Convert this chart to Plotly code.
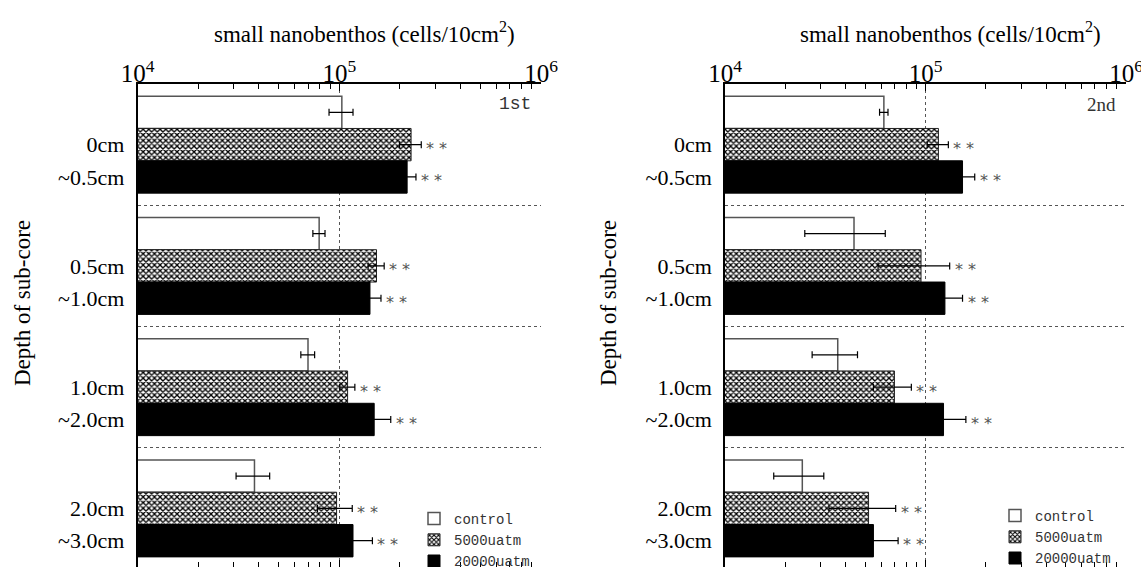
import numpy as np
import plotly.graph_objects as go

# categories
depth_top = ["0cm", "0.5cm", "1.0cm", "2.0cm"]
depth_bottom = ["~0.5cm", "~1.0cm", "~2.0cm", "~3.0cm"]
series_names = ["control", "5000uatm", "20000uatm"]
panel_tags = ["1st", "2nd"]

# 1st experiment (cells/10cm2)
first_control = [1.03e5, 7.95e4, 7.0e4, 3.8e4]
first_control_err = [1.4e4, 5.5e3, 5.5e3, 7.2e3]
first_5000 = [2.27e5, 1.53e5, 1.10e5, 9.7e4]
first_5000_err = [2.8e4, 1.4e4, 9.5e3, 1.9e4]
first_20000 = [2.17e5, 1.42e5, 1.49e5, 1.17e5]
first_20000_err = [2.3e4, 1.9e4, 3.1e4, 2.9e4]

# 2nd experiment
second_control = [6.2e4, 4.4e4, 3.65e4, 2.43e4]
second_control_err = [3.0e3, 1.9e4, 9.3e3, 6.8e3]
second_5000 = [1.16e5, 9.5e4, 7.0e4, 5.2e4]
second_5000_err = [1.4e4, 3.7e4, 1.5e4, 1.9e4]
second_20000 = [1.53e5, 1.25e5, 1.23e5, 5.5e4]
second_20000_err = [2.3e4, 2.8e4, 3.6e4, 1.8e4]

W, H = 1141, 567
SERIF = "Liberation Serif"
MONO = "Liberation Mono"

bargap = 0.2
bw = (1 - bargap) / 3
ypos = np.arange(len(depth_top))

fig = go.Figure()

panels = [
    (first_control, first_control_err, first_5000, first_5000_err, first_20000, first_20000_err),
    (second_control, second_control_err, second_5000, second_5000_err, second_20000, second_20000_err),
]
x_dom = [(137.5 / W, 541 / W), (725 / W, 1126 / W)]
top_px = 84
y_dom = (0, 1 - top_px / H)
unit_px = 121.25
y_span = (H - top_px) / unit_px
legends = ["legend", "legend2"]

for p, (c, ce, m, me, h, he) in enumerate(panels):
    xa = "x" if p == 0 else "x2"
    ya = "y" if p == 0 else "y2"
    fig.add_trace(go.Bar(
        y=ypos, x=c, orientation="h", name=series_names[0], xaxis=xa, yaxis=ya,
        marker=dict(color="white", line=dict(color="#555555", width=1.5)),
        error_x=dict(type="data", array=ce, color="black", thickness=1.2, width=3.5),
        legend=legends[p],
    ))
    fig.add_trace(go.Bar(
        y=ypos, x=m, orientation="h", name=series_names[1], xaxis=xa, yaxis=ya,
        marker=dict(color="white", line=dict(color="#222222", width=1),
                    pattern=dict(shape="x", fgcolor="black", bgcolor="white",
                                 size=4, solidity=0.55)),
        error_x=dict(type="data", array=me, color="black", thickness=1.2, width=3.5),
        legend=legends[p],
    ))
    fig.add_trace(go.Bar(
        y=ypos, x=h, orientation="h", name=series_names[2], xaxis=xa, yaxis=ya,
        marker=dict(color="black", line=dict(color="black", width=1)),
        error_x=dict(type="data", array=he, color="black", thickness=1.2, width=3.5),
        legend=legends[p],
    ))

    # significance marks
    for vals, errs, off in [(m, me, 0.0), (h, he, bw)]:
        for i in range(len(vals)):
            fig.add_annotation(
                x=np.log10(vals[i] + errs[i]), y=i + off, xref=xa, yref=ya,
                text="* *", showarrow=False, xanchor="left", yanchor="middle",
                xshift=3, yshift=-4,
                font=dict(family="DejaVu Sans", size=16, color="#555555"),
            )

    tickvals, ticktext = [], []
    for i in range(len(depth_top)):
        tickvals += [i, i + bw]
        ticktext += [depth_top[i], depth_bottom[i]]

    xkey = "xaxis" if p == 0 else "xaxis2"
    ykey = "yaxis" if p == 0 else "yaxis2"
    fig.update_layout({
        xkey: dict(
            type="log", range=[4, 6], domain=x_dom[p], anchor=ya, side="top",
            dtick=1, exponentformat="power", showline=True, linecolor="black",
            linewidth=1.5, mirror="allticks", ticks="inside", ticklen=7,
            tickcolor="black", ticklabelstandoff=-9, automargin=False,
            ticklabeloverflow="allow",
            tickfont=dict(family=SERIF, size=20, color="black"),
            showgrid=True, gridcolor="#555555", gridwidth=1, griddash="3px,3px",
            minor=dict(dtick="D1", ticks="inside", ticklen=5, tickcolor="black",
                       showgrid=False),
            zeroline=False, fixedrange=True,
        ),
        ykey: dict(
            domain=y_dom, anchor=xa, range=[y_span - 0.5, -0.5],
            tickmode="array", tickvals=tickvals, ticktext=ticktext,
            ticks="", showline=True, linecolor="black", linewidth=1.5,
            ticklabelstandoff=7, automargin=False,
            tickfont=dict(family=SERIF, size=22, color="black"),
            showgrid=False, zeroline=False,
            minor=dict(tickmode="linear", tick0=0.5, dtick=1, showgrid=True,
                       gridcolor="#555555", gridwidth=1, griddash="3px,3px"),
        ),
    })

    xa_dom = x_dom[p]
    # axis title on top
    fig.add_annotation(
        x=(xa_dom[0] + xa_dom[1]) / 2 + 25 / W, y=1 - 32 / H, xref="paper", yref="paper",
        xanchor="center", yanchor="middle",
        text="small nanobenthos (cells/10cm<sup>2</sup>)", showarrow=False,
        font=dict(family=SERIF, size=23, color="black"),
    )
    # y title
    fig.add_annotation(
        x=(22 if p == 0 else 608) / W, y=1 - 303 / H, xref="paper", yref="paper",
        xanchor="center", yanchor="middle",
        text="Depth of sub-core", textangle=-90, showarrow=False,
        font=dict(family=SERIF, size=23, color="black"),
    )
    # run tag
    fig.add_annotation(
        x=xa_dom[1] - 8 / W, y=1 - 104 / H, xref="paper", yref="paper",
        text=panel_tags[p], showarrow=False, xanchor="right", yanchor="middle",
        font=dict(family=MONO if p == 0 else SERIF, size=18 if p == 0 else 19,
                  color="#333333"),
    )

legend_style = dict(
    font=dict(family=MONO, size=14, color="#333333"),
    bgcolor="rgba(0,0,0,0)", yanchor="top", xanchor="left",
    tracegroupgap=0, itemwidth=30,
)
fig.update_layout(
    legend=dict(x=414 / W, y=1 - 503 / H, **legend_style),
    legend2=dict(x=995 / W, y=1 - 500 / H, **legend_style),
)

fig.update_layout(
    width=W, height=H, barmode="group", bargap=bargap, bargroupgap=0,
    margin=dict(l=0, r=0, t=0, b=0, autoexpand=False),
    paper_bgcolor="white", plot_bgcolor="white",
    font=dict(family=SERIF, color="black"),
    template="none",
)

# the page body has a default margin; drop it so the figure sits at the corner
fig.write_html("out.html", config={"displayModeBar": False},
               post_script="document.body.style.margin='0';")
